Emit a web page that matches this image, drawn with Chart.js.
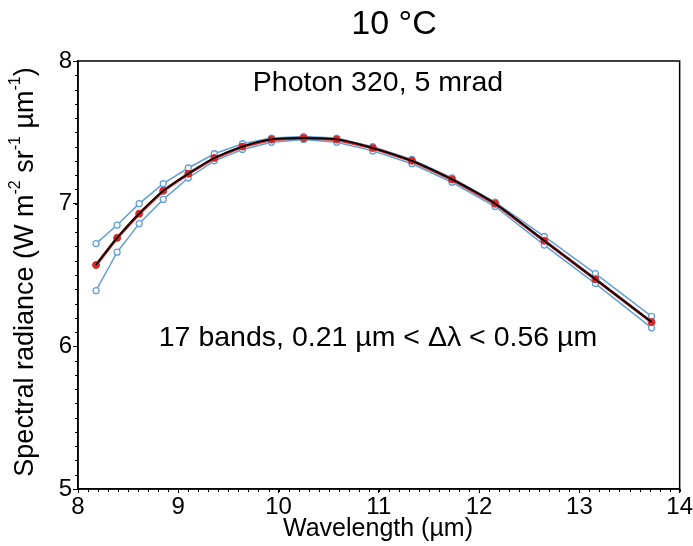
<!DOCTYPE html>
<html>
<head>
<meta charset="utf-8">
<script src="https://cdn.jsdelivr.net/npm/chart.js@4/dist/chart.umd.min.js"></script>
<style>
  html, body { margin: 0; padding: 0; background: #fff; }
  canvas { display: block; }
</style>
</head>
<body>
<canvas id="myChart" width="693" height="546"></canvas>
<script>
// band centre wavelengths (um)
const wavelengths = [8.18, 8.39, 8.61, 8.85, 9.10, 9.36, 9.64, 9.93, 10.25, 10.58, 10.94, 11.33, 11.73, 12.16, 12.65, 13.16, 13.72];
// band-averaged radiance (red) and the two blue curves
const bandMean  = [6.57, 6.76, 6.93, 7.09, 7.21, 7.32, 7.40, 7.45, 7.46, 7.45, 7.39, 7.30, 7.17, 7.00, 6.74, 6.47, 6.17];
const bandUpper = [6.72, 6.85, 7.00, 7.14, 7.25, 7.35, 7.42, 7.46, 7.47, 7.46, 7.40, 7.31, 7.18, 7.01, 6.77, 6.51, 6.21];
const bandLower = [6.39, 6.66, 6.86, 7.03, 7.18, 7.30, 7.38, 7.43, 7.45, 7.43, 7.37, 7.28, 7.15, 6.98, 6.71, 6.44, 6.13];

const xTicks = [8, 9, 10, 11, 12, 13, 14];
const yTicks = [5, 6, 7, 8];

const titleText = '10 °C';
const noteTop = 'Photon 320, 5 mrad';
const noteMid = '17 bands, 0.21 µm < Δλ < 0.56 µm';
const xTitle = 'Wavelength (µm)';

const FONT = '"Liberation Sans", Arial, sans-serif';

function toPoints(ys) {
  return wavelengths.map((x, i) => ({ x: x, y: ys[i] }));
}

const blue = 'rgb(98, 160, 214)';

const decorations = {
  id: 'decorations',
  afterDraw(chart) {
    const ctx = chart.ctx;
    const area = chart.chartArea;
    const xs = chart.scales.x;
    const ys = chart.scales.y;
    ctx.save();

    // frame
    ctx.strokeStyle = '#000';
    ctx.lineWidth = 1.5;
    ctx.strokeRect(area.left, area.top, area.right - area.left, area.bottom - area.top);

    // minor ticks
    ctx.lineWidth = 1;
    ctx.beginPath();
    for (let i = 0; i <= 60; i++) {
      const px = Math.round(xs.getPixelForValue(8 + i / 10)) + 0.5;
      ctx.moveTo(px, area.bottom);
      ctx.lineTo(px, area.bottom + 3);
    }
    for (let i = 0; i <= 30; i++) {
      const py = Math.round(ys.getPixelForValue(5 + i / 10)) + 0.5;
      ctx.moveTo(area.left, py);
      ctx.lineTo(area.left - 3, py);
    }
    ctx.stroke();

    ctx.fillStyle = '#000';
    ctx.textAlign = 'center';
    ctx.textBaseline = 'middle';

    ctx.font = '34px ' + FONT;
    ctx.fillText(titleText, 394, 25);

    ctx.font = '28.5px ' + FONT;
    ctx.fillText(noteTop, 378, 83);
    ctx.fillText(noteMid, 378, 338);

    ctx.font = '25px ' + FONT;
    ctx.fillText(xTitle, 378, 529);

    // y title with superscripts
    const parts = [
      ['Spectral radiance (W m', 0], ['-2', 1], [' sr', 0], ['-1', 1],
      [' µm', 0], ['-1', 1], [')', 0]
    ];
    const big = '27px ' + FONT;
    const small = '16px ' + FONT;
    let total = 0;
    parts.forEach(p => { ctx.font = p[1] ? small : big; total += ctx.measureText(p[0]).width; });
    ctx.translate(26, 272);
    ctx.rotate(-Math.PI / 2);
    ctx.textAlign = 'left';
    ctx.textBaseline = 'middle';
    let cx = -total / 2;
    parts.forEach(p => {
      ctx.font = p[1] ? small : big;
      ctx.fillText(p[0], cx, p[1] ? -10 : 0);
      cx += ctx.measureText(p[0]).width;
    });
    ctx.restore();
  }
};

new Chart(document.getElementById('myChart').getContext('2d'), {
  type: 'line',
  data: {
    datasets: [
      {
        label: 'Planck',
        data: toPoints(bandMean),
        borderColor: '#000',
        borderWidth: 1.8,
        pointRadius: 0,
        cubicInterpolationMode: 'monotone',
        fill: false,
        order: 0
      },
      {
        label: 'Band mean',
        data: toPoints(bandMean),
        borderColor: 'rgb(214, 40, 40)',
        backgroundColor: 'rgb(214, 40, 40)',
        borderWidth: 3,
        pointRadius: 3.5,
        pointBorderWidth: 1,
        fill: false,
        order: 1
      },
      {
        label: 'Upper',
        data: toPoints(bandUpper),
        borderColor: blue,
        backgroundColor: '#fff',
        borderWidth: 1.5,
        pointRadius: 3,
        pointBorderWidth: 1.3,
        fill: false,
        order: 2
      },
      {
        label: 'Lower',
        data: toPoints(bandLower),
        borderColor: blue,
        backgroundColor: '#fff',
        borderWidth: 1.5,
        pointRadius: 3,
        pointBorderWidth: 1.3,
        fill: false,
        order: 3
      }
    ]
  },
  options: {
    responsive: false,
    animation: false,
    devicePixelRatio: 1,
    layout: { padding: { top: 61, right: 13, left: 0, bottom: 0 } },
    plugins: {
      legend: { display: false },
      title: { display: false },
      tooltip: { enabled: false }
    },
    scales: {
      x: {
        type: 'linear',
        min: 8,
        max: 14,
        afterBuildTicks: s => { s.ticks = xTicks.map(v => ({ value: v })); },
        afterFit: s => { s.height = 57; },
        ticks: { color: '#000', font: { family: FONT, size: 24 }, padding: 0, maxRotation: 0 },
        grid: { drawOnChartArea: false, tickLength: 4, color: '#000', tickWidth: 1 },
        border: { color: '#000', width: 1.5 }
      },
      y: {
        type: 'linear',
        min: 5,
        max: 8,
        afterBuildTicks: s => { s.ticks = yTicks.map(v => ({ value: v })); },
        afterFit: s => { s.width = 78; },
        ticks: { color: '#000', font: { family: FONT, size: 24 }, padding: 1 },
        grid: { drawOnChartArea: false, tickLength: 5, color: '#000', tickWidth: 1 },
        border: { color: '#000', width: 1.5 }
      }
    }
  },
  plugins: [decorations]
});
</script>
</body>
</html>
